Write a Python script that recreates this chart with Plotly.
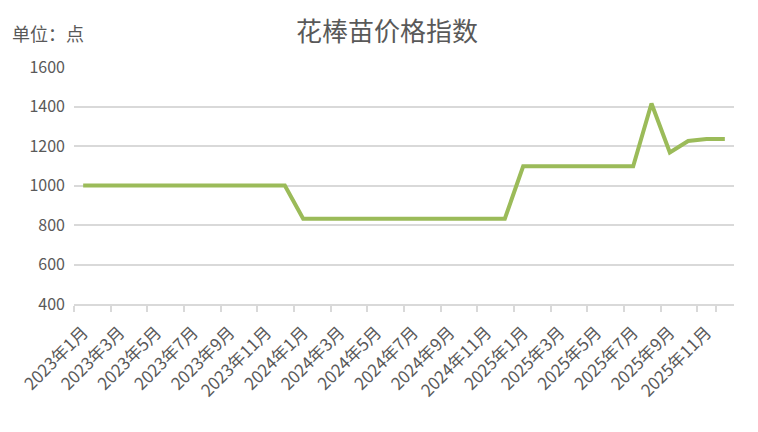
"""花棒苗价格指数 line chart."""

import plotly.graph_objects as go

months = [f"{y}年{m}月" for y in (2023, 2024, 2025) for m in range(1, 13)]
index_values = [
    1000, 1000, 1000, 1000, 1000, 1000, 1000, 1000, 1000, 1000, 1000, 1000,
    832, 832, 832, 832, 832, 832, 832, 832, 832, 832, 832, 832,
    1097, 1097, 1097, 1097, 1097, 1097, 1097, 1415, 1167, 1225, 1235, 1235,
]
tick_labels = months[::2]

FONT = "Noto Sans CJK SC"
GREY = "#595959"

fig = go.Figure()
fig.add_trace(go.Scatter(
    x=months, y=index_values, mode="lines",
    line=dict(color="#9BBB59", width=4),
    showlegend=False,
))

# unit label in the top-left corner
fig.add_annotation(
    text="单位：点", xref="paper", yref="paper", x=-0.097, y=1.0,
    xanchor="left", yanchor="middle", yshift=34, showarrow=False,
    font=dict(family=FONT, size=18, color=GREY),
)

fig.update_layout(
    width=758, height=432,
    margin=dict(l=66, r=32, t=59, b=136, autoexpand=False),
    title=dict(text="花棒苗价格指数", x=0.5, xanchor="center",
               y=0.944, yanchor="middle",
               font=dict(family=FONT, size=26, color=GREY)),
    plot_bgcolor="white", paper_bgcolor="white",
    font=dict(family=FONT, color=GREY),
)
fig.update_xaxes(
    type="category", categoryorder="array", categoryarray=months,
    tickmode="array", tickvals=tick_labels, ticktext=tick_labels,
    tickson="boundaries", ticks="outside", ticklen=6, tickcolor="#D9D9D9",
    tickwidth=1.5, tickangle=-45, tickfont=dict(size=17, color=GREY),
    ticklabelstandoff=10, automargin=False,
    showline=True, linecolor="#D9D9D9", linewidth=1.5,
    showgrid=False, range=[-0.5, 35.5],
)
fig.update_yaxes(
    range=[400, 1600], dtick=200, showgrid=True, gridcolor="#D9D9D9",
    gridwidth=1.5, zeroline=False, showline=False, automargin=False,
    tickfont=dict(size=16, color=GREY), ticks="", ticklabelstandoff=8,
)

fig.write_html("out.html")
